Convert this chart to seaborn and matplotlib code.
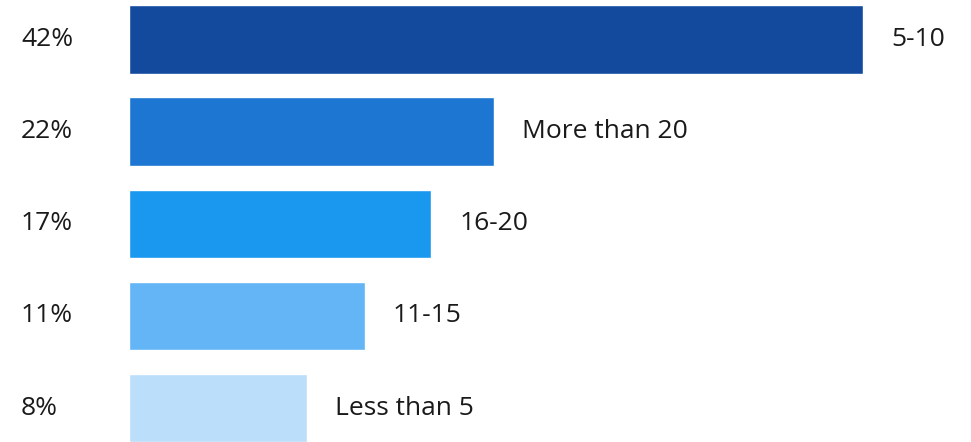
import matplotlib
matplotlib.use("Agg")
import matplotlib.pyplot as plt
import matplotlib.transforms as mtransforms
import seaborn as sns
import pandas as pd

# Data
categories = ["5-10", "More than 20", "16-20", "11-15", "Less than 5"]
share_labels = ["42%", "22%", "17%", "11%", "8%"]
bar_values = [42, 20.9, 17.3, 13.5, 10.2]
colors = ["#134A9E", "#1C76D2", "#1A98F0", "#64B5F6", "#BBDEFB"]

sns.set_theme(style="white")
plt.rcParams["font.family"] = ["Open Sans", "DejaVu Sans"]

df = pd.DataFrame({"category": categories, "value": bar_values})

fig = plt.figure(figsize=(9.71, 4.42), dpi=100)
ax = fig.add_axes([0, 0, 1, 1])

sns.barplot(data=df, y="category", x="value", hue="category",
            palette=dict(zip(categories, colors)), orient="h",
            width=0.742, legend=False, ax=ax, saturation=1)

px_per_unit = 17.48
ax.set_xlim(-129 / px_per_unit, (971 - 129) / px_per_unit)
ax.set_ylim(4.369, -0.429)
ax.axis("off")

trans = mtransforms.blended_transform_factory(ax.transAxes, ax.transData)
for i, (cat, lab, v) in enumerate(zip(categories, share_labels, bar_values)):
    ax.text(21 / 971, i, lab, transform=trans, ha="left", va="center",
            fontsize=19, color="#1a1a1a")
    ax.annotate(cat, xy=(v, i), xytext=(20.2, 0), textcoords="offset points",
                ha="left", va="center", fontsize=19, color="#1a1a1a")

fig.savefig("out.png", dpi=100)
